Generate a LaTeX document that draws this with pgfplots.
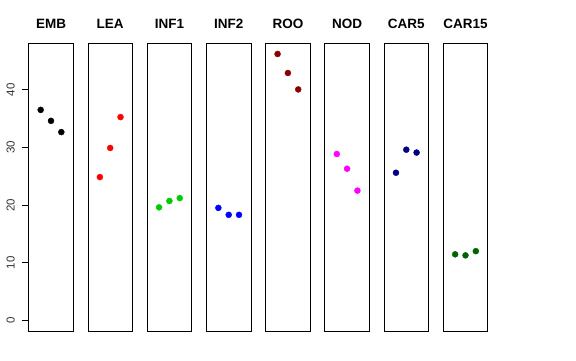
\documentclass[border=0pt]{standalone}
\usepackage{fontspec}
\setmainfont{Liberation Sans}
\usepackage{pgfplots}
\pgfplotsset{compat=1.18}
\definecolor{cgreen}{RGB}{0,205,0}
\definecolor{cdred}{RGB}{139,0,0}
\definecolor{cnavy}{RGB}{0,0,128}
\definecolor{cdgreen}{RGB}{0,100,0}
\definecolor{cmag}{RGB}{255,0,255}
\definecolor{cred}{RGB}{255,0,0}
\definecolor{cblue}{RGB}{0,0,255}
\pgfplotsset{
  panel/.style={
    scale only axis, width=44.6pt, height=287.7pt,
    anchor=south west,
    xmin=-0.16, xmax=4.16, ymin=-1.85, ymax=48.05,
    xtick=\empty, ytick=\empty,
    axis line style={line width=0.8pt},
    title style={at={(0.5,1)}, anchor=base, yshift=9pt, font=\fontsize{13.5}{14}\selectfont\bfseries},
    clip=false,
  },
  pts/.style={only marks, mark=*, mark size=3pt, mark options={draw=#1, fill=#1}},
}
\begin{document}
\begin{tikzpicture}
\path[use as bounding box] (0pt,0pt) rectangle (576pt,360pt);
\begin{axis}[panel, at={(28.7pt,29pt)}, title={EMB},
  ytick={0,10,20,30,40}, ytick pos=left, tick align=outside, major tick length=7pt,
  tick style={line width=0.6pt, black},
  /pgf/number format/assume math mode=true,
  yticklabel style={xshift=-3.5pt, rotate=90, anchor=south, font=\fontsize{11.5}{12}\selectfont, text=black!80}]
\addplot[pts=black] coordinates {(1,36.5) (2,34.6) (3,32.65)};
\end{axis}
\begin{axis}[panel, at={(87.9pt,29pt)}, title={LEA}]
\addplot[pts=cred] coordinates {(1,24.85) (2,29.9) (3,35.25)};
\end{axis}
\begin{axis}[panel, at={(147.1pt,29pt)}, title={INF1}]
\addplot[pts=cgreen] coordinates {(1,19.6) (2,20.7) (3,21.2)};
\end{axis}
\begin{axis}[panel, at={(206.4pt,29pt)}, title={INF2}]
\addplot[pts=cblue] coordinates {(1,19.5) (2,18.3) (3,18.3)};
\end{axis}
\begin{axis}[panel, at={(265.6pt,29pt)}, title={ROO}]
\addplot[pts=cdred] coordinates {(1,46.2) (2,42.9) (3,40.05)};
\end{axis}
\begin{axis}[panel, at={(324.8pt,29pt)}, title={NOD}]
\addplot[pts=cmag] coordinates {(1,28.85) (2,26.3) (3,22.5)};
\end{axis}
\begin{axis}[panel, at={(384.0pt,29pt)}, title={CAR5}]
\addplot[pts=cnavy] coordinates {(1,25.6) (2,29.6) (3,29.1)};
\end{axis}
\begin{axis}[panel, at={(443.2pt,29pt)}, title={CAR15}]
\addplot[pts=cdgreen] coordinates {(1,11.45) (2,11.27) (3,12.0)};
\end{axis}
\end{tikzpicture}
\end{document}
